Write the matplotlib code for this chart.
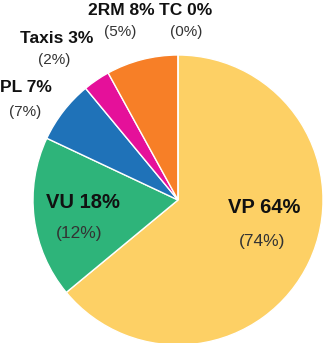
import matplotlib
matplotlib.use("Agg")
import matplotlib.pyplot as plt

labels = ["VP", "VU", "PL", "Taxis", "2RM", "TC"]
shares = [64, 18, 7, 3, 8, 0]
second = [74, 12, 7, 2, 5, 0]
colors = ["#FDD065", "#2EB47A", "#1F72B8", "#E5109A", "#F77F27", "#9E9E9E"]

# label centres, in pie radius units (centre = 0, 0)
main_pos = [(0.597, -0.055), (-0.659, -0.014), (-1.050, 0.776),
            (-0.834, 1.117), (-0.390, 1.310), (0.050, 1.310)]
sub_pos = [(0.579, -0.283), (-0.679, -0.234), (-1.052, 0.607),
           (-0.855, 0.966), (-0.397, 1.159), (0.055, 1.159)]
main_size = [14.5, 14.5, 12.5, 12.5, 12.5, 12.5]
sub_size = [12.5, 12.5, 11, 11, 11, 11]

fam = ["Liberation Sans", "DejaVu Sans"]

fig = plt.figure(figsize=(3.3, 3.43), dpi=100)
ax = fig.add_axes([0, 0, 1, 1])

ax.pie(shares, colors=colors, startangle=90, counterclock=False,
       radius=1, wedgeprops={'edgecolor': 'white', 'linewidth': 1})

for i in range(len(labels)):
    x, y = main_pos[i]
    ax.text(x, y, "{} {}%".format(labels[i], shares[i]), ha='center', va='center',
            fontsize=main_size[i], fontweight='bold', family=fam, color='#111111')
    x, y = sub_pos[i]
    ax.text(x, y, "({}%)".format(second[i]), ha='center', va='center',
            fontsize=sub_size[i], family=fam, color='#333333')

ax.set_xlim(-178 / 145, (330 - 178) / 145)
ax.set_ylim((200 - 343) / 145, 200 / 145)
ax.set_aspect('auto')
ax.axis('off')

fig.savefig("out.png", dpi=100, facecolor='white')
